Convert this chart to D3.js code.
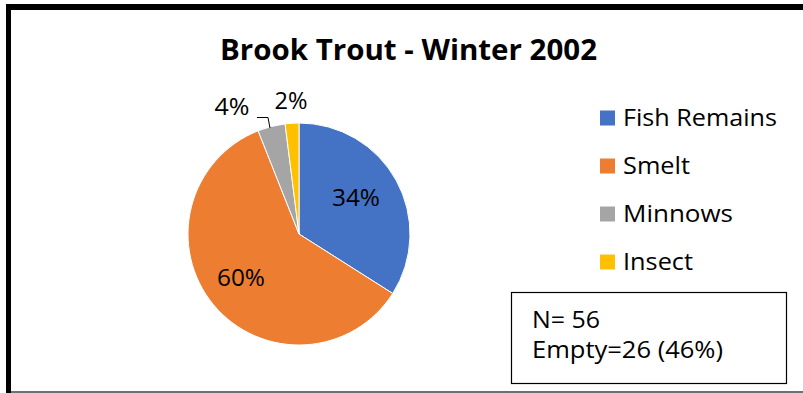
<!DOCTYPE html>
<html><head><meta charset="utf-8">
<script src="https://cdn.jsdelivr.net/npm/d3@7"></script>
<style>body{margin:0;background:#fff}svg{display:block}</style>
</head><body>
<script>
const categories = ["Fish Remains","Smelt","Minnows","Insect"];
const values = [34,60,4,2];
const labels = ["34%","60%","4%","2%"];
const colors = ["#4472C4","#ED7D31","#A5A5A5","#FFC000"];
const title = "Brook Trout - Winter 2002";
const noteLines = ["N= 56","Empty=26 (46%)"];

const W=803,H=393,FONT="'Open Sans', sans-serif";
const svg=d3.select("body").append("svg").attr("width",W).attr("height",H);
svg.append("rect").attr("width",W).attr("height",H).attr("fill","#fff");
// borders
svg.append("line").attr("x1",8.5).attr("x2",8.5).attr("y1",4).attr("y2",H).attr("stroke","#000").attr("stroke-width",5);
svg.append("line").attr("x1",6).attr("x2",W).attr("y1",7).attr("y2",7).attr("stroke","#000").attr("stroke-width",6);
svg.append("line").attr("x1",11).attr("x2",W).attr("y1",392).attr("y2",392).attr("stroke","#404040").attr("stroke-width",1.5);

function fit(sel,w){ sel.attr("textLength",w).attr("lengthAdjust","spacingAndGlyphs"); return sel; }

// title
fit(svg.append("text").attr("x",408.5).attr("y",60).attr("text-anchor","middle")
  .attr("font-family",FONT).attr("font-weight","bold").attr("font-size",28).text(title),377);

// pie
const cx=299,cy=234,R=111;
const pie=d3.pie().sort(null).value(d=>d)(values);
const arc=d3.arc().innerRadius(0).outerRadius(R);
const g=svg.append("g").attr("transform",`translate(${cx},${cy})`);
g.selectAll("path").data(pie).join("path").attr("d",arc)
  .attr("fill",(d,i)=>colors[i]).attr("stroke","#fff").attr("stroke-width",1);

// data labels
const labelPos=[[356,206],[241,286],[232,115],[291,109]];
const labelW=[48,48,35,33];
labels.forEach((t,i)=>{
  fit(svg.append("text").attr("x",labelPos[i][0]).attr("y",labelPos[i][1]).attr("text-anchor","middle")
   .attr("font-family",FONT).attr("font-size",23).attr("fill","#000").text(t),labelW[i]);
});
svg.append("path").attr("d","M257,117.5H268L270,128").attr("fill","none").attr("stroke","#000").attr("stroke-width",1);

// legend
const legW=[154,67,110,70];
const lg=svg.append("g");
categories.forEach((c,i)=>{
  const y=118+i*48;
  lg.append("rect").attr("x",600).attr("y",y-7.5).attr("width",15).attr("height",15).attr("fill",colors[i]);
  fit(lg.append("text").attr("x",623).attr("y",y+8).attr("font-family",FONT).attr("font-size",24).attr("fill","#000").text(c),legW[i]);
});

// note box
svg.append("rect").attr("x",511.5).attr("y",292.5).attr("width",275).attr("height",91).attr("fill","#fff").attr("stroke","#000").attr("stroke-width",1.2);
const noteW=[68,191];
noteLines.forEach((t,i)=>{
  fit(svg.append("text").attr("x",532).attr("y",328+i*30).attr("font-family",FONT).attr("font-size",24).attr("fill","#000").text(t),noteW[i]);
});
</script>
</body></html>
